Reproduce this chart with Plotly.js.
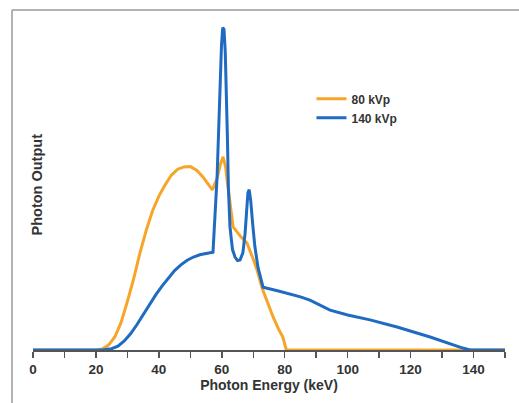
<!DOCTYPE html>
<html>
<head>
<meta charset="utf-8">
<script src="https://cdn.plot.ly/plotly-3.0.1.min.js"></script>
<style>html,body{margin:0;padding:0;background:#fff;}#chart{width:519px;height:403px;}</style>
</head>
<body>
<div id="chart"></div>
<script>
// 80 kVp spectrum (keV, relative photon output)
var energy80 = [0, 20, 22, 24, 26, 28, 30, 32, 34, 36, 38, 40, 42, 44, 46, 48, 50, 52, 54, 56, 57, 58.5, 59.6, 60.4, 61.2, 62, 62.8, 63.6, 66, 68, 70, 71.2, 72.8, 74.5, 76.3, 78, 79.4, 80.5, 150];
var output80 = [0, 0, 0.3, 1.5, 4, 8.5, 15, 22, 30, 37, 43, 47.5, 51, 54, 55.8, 56.5, 56.6, 55.5, 53.4, 50.5, 49.4, 53, 57.5, 59.6, 56.5, 50, 43, 38, 35, 33, 28, 24.7, 19.1, 14.5, 10.2, 6.5, 4, 0, 0];

// 140 kVp spectrum
var energy140 = [0, 22, 25, 27, 29, 31, 33, 35, 37, 39, 41, 43, 45, 47, 49, 51, 53, 55, 57.2, 58.5, 59.4, 59.9, 60.3, 60.7, 61.1, 61.5, 61.8, 62.1, 62.6, 63.4, 64.2, 65.0, 65.8, 66.7, 67.4, 67.9, 68.3, 68.7, 69.2, 69.8, 70.5, 71.5, 73.1, 78, 81.7, 85, 88.0, 91, 94.4, 100, 107.1, 115.7, 126.2, 136.6, 138.9, 150];
var output140 = [0, 0, 0.4, 1.2, 2.8, 5, 7.8, 11, 14.2, 17, 19.7, 22.2, 24.5, 26.3, 27.7, 28.7, 29.4, 29.8, 30.2, 53.4, 80, 94, 99.5, 99, 92, 80, 65, 50, 38, 31, 28.7, 27.6, 27.8, 30, 36, 43, 48.5, 49.5, 46, 39, 32, 25.5, 19.4, 18.2, 17.3, 16.4, 15.4, 14.0, 12.3, 10.8, 9.3, 7.1, 4.0, 0.6, 0, 0];

var seriesNames = ["80 kVp", "140 kVp"];
var xTickVals = [0, 20, 40, 60, 80, 100, 120, 140];

var traces = [
  {x: energy80, y: output80, name: seriesNames[0], type: 'scatter', mode: 'lines',
   line: {color: '#F6A529', width: 3}},
  {x: energy140, y: output140, name: seriesNames[1], type: 'scatter', mode: 'lines',
   line: {color: '#1F6BC2', width: 3}}
];

var layout = {
  width: 519, height: 403,
  margin: {l: 33, r: 14, t: 20, b: 53},
  paper_bgcolor: '#ffffff', plot_bgcolor: '#ffffff',
  font: {family: 'Liberation Sans, Arial, sans-serif', color: '#333333'},
  showlegend: true,
  legend: {x: 0.59, y: 0.805, xanchor: 'left', yanchor: 'top', bgcolor: 'rgba(0,0,0,0)', tracegroupgap: 0,
           font: {size: 12, color: '#333333', family: 'Liberation Sans, Arial, sans-serif', weight: 'bold'}},
  xaxis: {
    range: [0, 150], tickvals: xTickVals, ticks: 'outside', ticklen: 6, tickwidth: 1.5, tickcolor: '#555',
    showline: true, linecolor: '#555555', linewidth: 2, showgrid: false, zeroline: false,
    minor: {dtick: 10, ticks: 'outside', ticklen: 6, tickwidth: 1.5, tickcolor: '#555', showgrid: false},
    tickfont: {size: 13.5, color: '#333', weight: 'bold'},
    title: {text: 'Photon Energy (keV)', font: {size: 14, color: '#333', weight: 'bold'}, standoff: 2}
  },
  yaxis: {
    range: [0, 101.85], showticklabels: false, showgrid: false, zeroline: false, showline: false, ticks: ''
  },
  annotations: [
    {text: 'Photon Output', xref: 'paper', yref: 'paper', x: 0.0095, y: 0.503, textangle: -90,
     showarrow: false, xanchor: 'center', yanchor: 'middle',
     font: {size: 14.5, color: '#333', weight: 'bold'}}
  ],
  shapes: [
    {type: 'line', xref: 'paper', yref: 'paper', x0: -0.0445, x1: 1.05, y0: 1.0303, y1: 1.0303,
     line: {color: '#9a9a9a', width: 1.5}},
    {type: 'line', xref: 'paper', yref: 'paper', x0: -0.0445, x1: -0.0445, y0: 1.0303, y1: -0.17,
     line: {color: '#9a9a9a', width: 1.5}}
  ]
};

Plotly.newPlot('chart', traces, layout, {displayModeBar: false, staticPlot: true});
</script>
</body>
</html>
